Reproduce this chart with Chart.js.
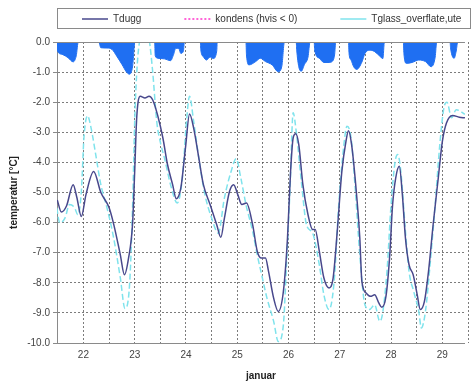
<!DOCTYPE html>
<html>
<head>
<meta charset="utf-8">
<script src="https://cdn.jsdelivr.net/npm/chart.js@4.4.1/dist/chart.umd.min.js"></script>
<style>
  html, body { margin: 0; padding: 0; background: #fff; }
</style>
</head>
<body>
<canvas id="chart" width="474" height="384"></canvas>
<script>
// day labels on the x axis (january), grid every half day
const dayTicks = [22, 23, 24, 25, 26, 27, 28, 29];
const yTickLabels = ["0.0", "-1.0", "-2.0", "-3.0", "-4.0", "-5.0", "-6.0", "-7.0", "-8.0", "-9.0", "-10.0"];

// Tdugg
const dewDays = [21.49, 21.57, 21.67, 21.80, 21.87, 21.96, 22.05, 22.20, 22.34, 22.50, 22.59, 22.72, 22.80, 22.88, 22.96, 23.00, 23.04, 23.11, 23.20, 23.28, 23.35, 23.45, 23.55, 23.64, 23.74, 23.81, 23.90, 23.99, 24.07, 24.15, 24.25, 24.34, 24.47, 24.60, 24.68, 24.75, 24.85, 24.93, 25.01, 25.09, 25.18, 25.30, 25.39, 25.47, 25.55, 25.61, 25.71, 25.80, 25.90, 25.98, 26.04, 26.09, 26.14, 26.20, 26.28, 26.38, 26.47, 26.52, 26.60, 26.69, 26.79, 26.87, 26.95, 27.04, 27.12, 27.17, 27.23, 27.31, 27.39, 27.43, 27.52, 27.60, 27.68, 27.76, 27.82, 27.90, 27.97, 28.03, 28.09, 28.16, 28.22, 28.28, 28.35, 28.43, 28.51, 28.57, 28.65, 28.73, 28.82, 28.92, 29.00, 29.08, 29.20, 29.33, 29.44];
const dewTemps = [-5.25, -5.65, -5.45, -4.74, -5.15, -5.80, -5.07, -4.30, -5.00, -5.50, -6.05, -7.07, -7.73, -7.18, -6.00, -4.30, -2.50, -1.80, -1.86, -1.80, -1.92, -2.45, -3.19, -4.07, -4.74, -5.21, -4.85, -3.52, -2.39, -2.86, -3.85, -4.74, -5.40, -6.07, -6.49, -5.85, -4.96, -4.74, -5.07, -5.40, -5.35, -6.07, -6.95, -7.18, -7.18, -7.62, -8.51, -8.95, -8.28, -6.51, -4.30, -3.19, -3.05, -3.41, -4.74, -5.74, -6.23, -6.23, -6.95, -7.84, -8.17, -7.84, -6.29, -4.30, -3.30, -2.95, -3.41, -4.74, -6.51, -7.95, -8.35, -8.45, -8.40, -8.67, -8.81, -8.45, -7.18, -5.40, -4.52, -4.13, -5.07, -6.51, -7.40, -7.73, -8.40, -8.89, -8.62, -7.62, -6.07, -4.52, -3.30, -2.69, -2.44, -2.50, -2.52];

// Tglass_overflate,ute
const glassDays = [21.48, 21.54, 21.64, 21.73, 21.83, 21.89, 21.96, 22.01, 22.08, 22.15, 22.24, 22.34, 22.46, 22.59, 22.72, 22.81, 22.90, 22.96, 23.00, 23.05, 23.12, 23.20, 23.28, 23.35, 23.43, 23.51, 23.58, 23.70, 23.83, 23.93, 24.01, 24.07, 24.15, 24.25, 24.37, 24.50, 24.63, 24.75, 24.88, 24.98, 25.07, 25.17, 25.30, 25.39, 25.49, 25.58, 25.71, 25.80, 25.90, 25.96, 26.03, 26.09, 26.15, 26.25, 26.35, 26.47, 26.60, 26.69, 26.79, 26.89, 26.98, 27.08, 27.14, 27.22, 27.30, 27.39, 27.49, 27.58, 27.68, 27.78, 27.83, 27.92, 28.00, 28.08, 28.13, 28.19, 28.27, 28.35, 28.44, 28.54, 28.59, 28.67, 28.76, 28.86, 28.95, 29.03, 29.09, 29.18, 29.27, 29.44];
const glassTemps = [-5.51, -6.01, -5.85, -5.40, -5.51, -5.74, -4.96, -3.19, -2.45, -2.86, -3.74, -4.74, -5.51, -6.51, -7.84, -8.85, -8.06, -5.40, -2.64, -0.75, 0.20, 0.35, 0.10, -0.97, -2.64, -3.40, -3.85, -4.74, -5.35, -4.52, -2.64, -1.80, -2.64, -3.85, -5.07, -5.85, -6.35, -5.18, -4.30, -3.88, -4.52, -5.40, -6.29, -7.07, -7.84, -8.51, -9.28, -9.95, -9.39, -7.40, -4.85, -2.35, -2.97, -4.63, -6.07, -6.35, -7.40, -8.40, -8.89, -7.95, -5.40, -3.41, -2.80, -3.19, -4.85, -7.07, -8.73, -8.89, -8.73, -9.28, -9.06, -7.62, -5.40, -3.96, -3.74, -4.30, -6.07, -7.62, -8.28, -8.95, -9.50, -8.95, -7.40, -5.40, -3.41, -2.19, -2.00, -2.52, -2.25, -2.40];

// kondens (hvis < 0)
const condDays = [21.485, 21.51, 21.60, 21.70, 21.80, 21.86, 21.90, 22.30, 22.34, 22.46, 22.56, 22.65, 22.75, 22.85, 22.90, 22.96, 23.005, 23.39, 23.40, 23.45, 23.58, 23.70, 23.76, 23.80, 23.86, 23.90, 23.95, 23.97, 24.28, 24.29, 24.34, 24.40, 24.47, 24.53, 24.60, 24.61, 25.17, 25.18, 25.23, 25.36, 25.45, 25.55, 25.68, 25.80, 25.87, 25.92, 26.15, 26.16, 26.20, 26.25, 26.31, 26.38, 26.42, 26.50, 26.51, 26.60, 26.69, 26.79, 26.85, 26.90, 26.92, 27.17, 27.18, 27.22, 27.27, 27.33, 27.43, 27.49, 27.59, 27.68, 27.78, 27.84, 27.87, 28.24, 28.25, 28.30, 28.41, 28.54, 28.67, 28.78, 28.86, 28.89, 29.15, 29.16, 29.23, 29.27, 29.30, 29.44];
const condValues = [-0.25, -0.35, -0.42, -0.52, -0.66, -0.46, 0, 0, -0.19, -0.20, -0.25, -0.47, -0.74, -1.02, -1.07, -0.80, 0, 0, -0.45, -0.54, -0.56, -0.62, -0.41, -0.21, -0.22, -0.38, -0.30, 0, 0, -0.27, -0.49, -0.60, -0.50, -0.55, -0.30, 0, 0, -0.43, -0.76, -0.65, -0.54, -0.65, -0.76, -0.99, -0.80, 0, 0, -0.27, -0.82, -0.97, -0.75, -0.50, 0, 0, -0.27, -0.54, -0.68, -0.68, -0.65, -0.40, 0, 0, -0.38, -0.60, -0.82, -0.91, -0.67, -0.38, -0.27, -0.32, -0.47, -0.55, 0, 0, -0.38, -0.71, -0.68, -0.60, -0.65, -0.82, -0.50, 0, 0, -0.20, -0.54, -0.30, 0, 0];

const gridDays = [];
dayTicks.forEach((d) => {
  gridDays.push(d);
  gridDays.push(d + 0.5);
});

function toPoints(xs, ys) {
  return xs.map((x, i) => ({ x: x, y: ys[i] }));
}

Chart.defaults.font.family = "'Liberation Sans', Arial, sans-serif";
Chart.defaults.font.size = 10;
Chart.defaults.color = "#444";

const gridColor = "rgba(80, 80, 80, 0.75)";
const legendPad = 43;

// put the legend row inside its frame, starting a bit right of the y axis
const framePlugin = {
  id: "frame",
  afterLayout(chart) {
    const lg = chart.legend;
    lg.left = chart.chartArea.left + 25 - legendPad;
    lg.right = chart.width + 80;
    lg.top -= 8;
    lg.bottom -= 8;
  },
  afterDraw(chart) {
    const ctx = chart.ctx;
    const a = chart.chartArea;
    ctx.save();
    ctx.strokeStyle = "#8a8a8a";
    ctx.lineWidth = 1;
    ctx.strokeRect(a.left + 0.5, 8.5, 413, 20);
    ctx.beginPath();
    ctx.moveTo(a.left, Math.round(a.top) + 0.5);
    ctx.lineTo(a.right, Math.round(a.top) + 0.5);
    ctx.stroke();
    ctx.restore();
  },
};

new Chart(document.getElementById("chart"), {
  type: "line",
  data: {
    datasets: [
      {
        label: "Tdugg",
        data: toPoints(dewDays, dewTemps),
        borderColor: "#48488c",
        borderWidth: 1.5,
        pointRadius: 0,
        cubicInterpolationMode: "monotone",
      },
      {
        label: "kondens (hvis < 0)",
        data: toPoints(condDays, condValues),
        borderColor: "#1f6ff2",
        backgroundColor: "#1f6ff2",
        borderWidth: 1,
        pointRadius: 0,
        fill: "origin",
        cubicInterpolationMode: "monotone",
      },
      {
        label: "Tglass_overflate,ute",
        data: toPoints(glassDays, glassTemps),
        borderColor: "#7fe3ec",
        borderWidth: 1.5,
        borderDash: [6, 3],
        pointRadius: 0,
        cubicInterpolationMode: "monotone",
      },
    ],
  },
  options: {
    responsive: false,
    animation: false,
    layout: { padding: { top: -21, left: 0, right: 0, bottom: 0 } },
    plugins: {
      tooltip: { enabled: false },
      legend: {
        position: "top",
        align: "start",
        labels: {
          usePointStyle: true,
          pointStyle: "line",
          pointStyleWidth: 26,
          padding: legendPad,
          color: "#333",
          font: { size: 10 },
          generateLabels(chart) {
            const items = Chart.defaults.plugins.legend.labels.generateLabels(chart);
            items.forEach((item) => {
              if (item.datasetIndex === 1) {
                item.strokeStyle = "#ff33cc";
                item.lineDash = [2, 2];
                item.lineWidth = 1.5;
              }
            });
            return items;
          },
        },
      },
    },
    scales: {
      x: {
        type: "linear",
        min: 21.485,
        max: 29.44,
        afterBuildTicks(scale) {
          scale.ticks = gridDays.map((v) => ({ value: v }));
        },
        afterFit(scale) {
          scale.height = 41;
        },
        ticks: {
          autoSkip: false,
          maxRotation: 0,
          padding: 6,
          color: "#444",
          callback: (v) => (dayTicks.includes(v) ? String(v) : ""),
        },
        grid: { color: gridColor, drawTicks: false },
        border: { color: "#8a8a8a", dash: [2, 2] },
        title: {
          display: true,
          text: "januar",
          color: "#222",
          font: { size: 10, weight: "bold" },
          padding: { top: 0, bottom: 2 },
        },
      },
      y: {
        min: -10,
        max: 0,
        afterFit(scale) {
          scale.width = 57;
        },
        ticks: {
          stepSize: 1,
          padding: 3,
          color: "#444",
          callback: (v) => yTickLabels[Math.round(-v)],
        },
        grid: { color: gridColor, tickColor: "#8a8a8a", tickLength: 4 },
        border: { color: "#8a8a8a", dash: [2, 2] },
        title: {
          display: true,
          text: "temperatur [°C]",
          color: "#222",
          font: { size: 10, weight: "bold" },
          padding: { top: 8, bottom: 0 },
        },
      },
    },
  },
  plugins: [framePlugin],
});
</script>
</body>
</html>
